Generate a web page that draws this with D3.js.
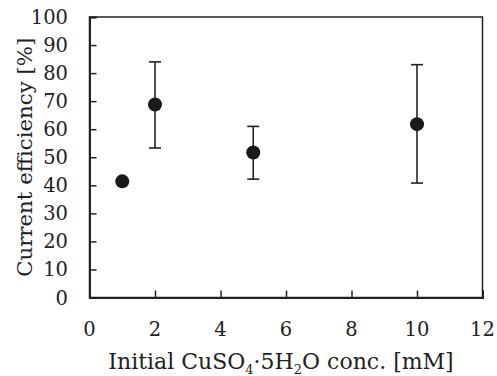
<!DOCTYPE html>
<html lang="en">
<head>
  <meta charset="UTF-8" />
  <title>Current efficiency vs CuSO4 concentration</title>
  <script src="https://d3js.org/d3.v7.min.js"></script>
  <style>
    body { margin:0; padding:0; background:#fff; }
    svg { display:block; }
    text { font-family:"DejaVu Serif", serif; fill:#222; }
  </style>
</head>
<body>
  <svg width="497" height="376"></svg>
  <script>
  // data
  const conc       = [1, 2, 5, 10];
  const efficiency = [41.4, 68.8, 51.7, 61.8];
  const errLow     = [null, 53.3, 42.2, 40.8];
  const errHigh    = [null, 84.0, 61.0, 83.0];
  const xTicks = [0, 2, 4, 6, 8, 10, 12];
  const yTicks = [0, 10, 20, 30, 40, 50, 60, 70, 80, 90, 100];

  const svg = d3.select('svg');
  const M = { left: 89.5, right: 482.5, top: 17, bottom: 297.5 };
  const ink = '#222';

  const x = d3.scaleLinear().domain([0, 12]).range([M.left, M.right]);
  const y = d3.scaleLinear().domain([0, 100]).range([M.bottom, M.top]);

  // frame
  svg.append('rect')
    .attr('x', M.left).attr('y', M.top)
    .attr('width', M.right - M.left).attr('height', M.bottom - M.top)
    .attr('fill', 'none').attr('stroke', ink).attr('stroke-width', 1.5);

  // y axis, ticks point inward
  const yAxis = svg.append('g')
    .attr('transform', `translate(${M.left},0)`)
    .call(d3.axisRight(y).tickValues(yTicks).tickSize(7).tickFormat(''));
  yAxis.select('.domain').attr('stroke', ink).attr('stroke-width', 2);
  yAxis.selectAll('line').attr('stroke', ink).attr('stroke-width', 1.5);
  svg.append('g').selectAll('text').data(yTicks).enter().append('text')
    .attr('x', 68).attr('y', d => y(d) + 7)
    .attr('text-anchor', 'end').attr('font-size', 19.5)
    .text(d => d);

  // x axis, ticks point inward
  const xAxis = svg.append('g')
    .attr('transform', `translate(0,${M.bottom})`)
    .call(d3.axisTop(x).tickValues(xTicks).tickSize(7).tickFormat(''));
  xAxis.select('.domain').attr('stroke', ink).attr('stroke-width', 2);
  xAxis.selectAll('line').attr('stroke', ink).attr('stroke-width', 1.5);
  svg.append('g').selectAll('text').data(xTicks).enter().append('text')
    .attr('x', d => x(d)).attr('y', 335.5)
    .attr('text-anchor', 'middle').attr('font-size', 19.5)
    .text(d => d);

  // error bars
  const pts = conc.map((c, i) => ({ c, v: efficiency[i], lo: errLow[i], hi: errHigh[i] }));
  const eb = svg.append('g').selectAll('g').data(pts.filter(d => d.lo != null)).enter().append('g')
    .attr('stroke', ink).attr('stroke-width', 1.6);
  eb.append('line').attr('x1', d => x(d.c)).attr('x2', d => x(d.c))
    .attr('y1', d => y(d.lo)).attr('y2', d => y(d.hi));
  eb.append('line').attr('x1', d => x(d.c) - 6).attr('x2', d => x(d.c) + 6)
    .attr('y1', d => y(d.lo)).attr('y2', d => y(d.lo));
  eb.append('line').attr('x1', d => x(d.c) - 6).attr('x2', d => x(d.c) + 6)
    .attr('y1', d => y(d.hi)).attr('y2', d => y(d.hi));

  // markers
  svg.append('g').selectAll('circle').data(pts).enter().append('circle')
    .attr('cx', d => x(d.c)).attr('cy', d => y(d.v))
    .attr('r', 7).attr('fill', '#1a1a1a');

  // axis titles
  svg.append('text')
    .attr('transform', `translate(31.5,${(M.top + M.bottom) / 2}) rotate(-90)`)
    .attr('text-anchor', 'middle').attr('font-size', 21.3)
    .text('Current efficiency [%]');

  const xt = svg.append('text')
    .attr('x', 281).attr('y', 369)
    .attr('text-anchor', 'middle').attr('font-size', 22);
  xt.append('tspan').text('Initial CuSO');
  xt.append('tspan').attr('font-size', 13).attr('dy', 5).text('4');
  xt.append('tspan').attr('dy', -5).text('\u00b75H');
  xt.append('tspan').attr('font-size', 13).attr('dy', 5).text('2');
  xt.append('tspan').attr('dy', -5).text('O conc. [mM]');
  </script>
</body>
</html>
